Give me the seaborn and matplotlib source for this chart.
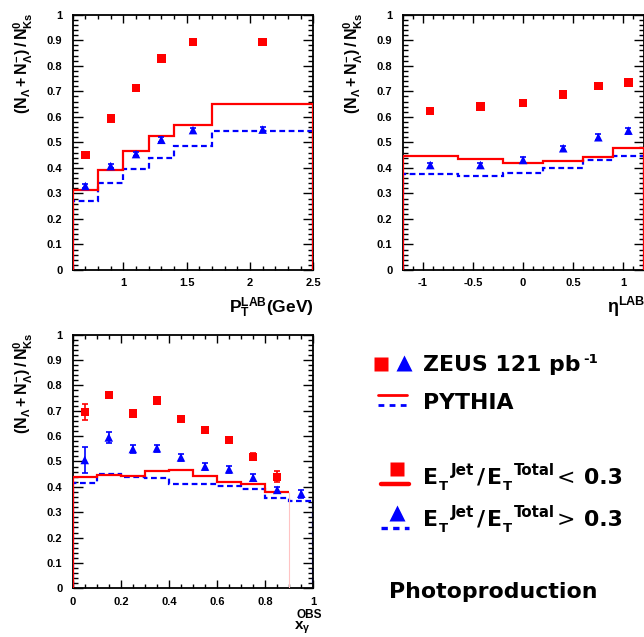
import numpy as np
import pandas as pd
import matplotlib
matplotlib.use("Agg")
import matplotlib.pyplot as plt
import seaborn as sns
from matplotlib.ticker import MultipleLocator, FuncFormatter

sns.set_theme(style="white")
plt.rcParams["font.family"] = ["Liberation Sans", "DejaVu Sans"]
plt.rcParams["font.weight"] = "bold"
plt.rcParams["text.color"] = "black"
plt.rcParams["axes.labelcolor"] = "black"
plt.rcParams["xtick.color"] = "black"
plt.rcParams["ytick.color"] = "black"
plt.rcParams["mathtext.fontset"] = "custom"
plt.rcParams["mathtext.rm"] = "Liberation Sans:bold"
plt.rcParams["mathtext.it"] = "Liberation Sans:bold"
plt.rcParams["mathtext.bf"] = "Liberation Sans:bold"
plt.rcParams["mathtext.sf"] = "Liberation Sans:bold"

# ---------------- data ----------------
# Panel 1: p_T^LAB
pt_x = [0.7, 0.9, 1.1, 1.3, 1.55, 2.1]
pt_low = [0.450, 0.593, 0.714, 0.828, 0.893, 0.893]
pt_low_err = [0.010, 0.010, 0.010, 0.012, 0.012, 0.012]
pt_high = [0.329, 0.407, 0.454, 0.510, 0.548, 0.550]
pt_high_err = [0.008, 0.008, 0.008, 0.010, 0.010, 0.010]
pt_edges = [0.6, 0.8, 1.0, 1.2, 1.4, 1.7, 2.5]
pt_mc_low = [0.312, 0.392, 0.467, 0.524, 0.568, 0.650]
pt_mc_high = [0.270, 0.341, 0.396, 0.439, 0.487, 0.546]
pt_ticks = [1, 1.5, 2, 2.5]

# Panel 2: eta^LAB
eta_x = [-0.925, -0.425, 0.0, 0.4, 0.75, 1.05]
eta_low = [0.624, 0.640, 0.655, 0.687, 0.722, 0.735]
eta_low_err = [0.010, 0.010, 0.010, 0.010, 0.012, 0.012]
eta_high = [0.411, 0.411, 0.431, 0.477, 0.520, 0.546]
eta_high_err = [0.010, 0.010, 0.010, 0.010, 0.012, 0.012]
eta_edges = [-1.2, -0.65, -0.2, 0.2, 0.6, 0.9, 1.2]
eta_mc_low = [0.445, 0.436, 0.420, 0.428, 0.444, 0.478]
eta_mc_high = [0.377, 0.369, 0.381, 0.398, 0.431, 0.448]
eta_ticks = [-1, -0.5, 0, 0.5, 1]

# Panel 3: x_gamma^OBS
xg_x_low = [0.05, 0.15, 0.25, 0.35, 0.45, 0.55, 0.65, 0.75, 0.85]
xg_low = [0.695, 0.762, 0.689, 0.741, 0.668, 0.623, 0.585, 0.519, 0.440]
xg_low_err = [0.030, 0.012, 0.010, 0.012, 0.012, 0.012, 0.012, 0.015, 0.022]
xg_x_high = [0.05, 0.15, 0.25, 0.35, 0.45, 0.55, 0.65, 0.75, 0.85, 0.95]
xg_high = [0.506, 0.595, 0.549, 0.552, 0.516, 0.480, 0.469, 0.436, 0.388, 0.373]
xg_high_err = [0.051, 0.022, 0.015, 0.015, 0.013, 0.013, 0.013, 0.013, 0.013, 0.015]
xg_edges_low = [0.0, 0.1, 0.2, 0.3, 0.4, 0.5, 0.6, 0.7, 0.8, 0.9]
xg_mc_low = [0.438, 0.447, 0.444, 0.462, 0.466, 0.443, 0.419, 0.413, 0.381]
xg_edges_high = [0.0, 0.1, 0.2, 0.3, 0.4, 0.5, 0.6, 0.7, 0.8, 0.9, 1.0]
xg_mc_high = [0.414, 0.452, 0.440, 0.436, 0.410, 0.410, 0.405, 0.392, 0.356, 0.345]
xg_ticks = [0, 0.2, 0.4, 0.6, 0.8, 1.0]

RED = "#ff0000"
BLUE = "#0000ff"
W, H = 644, 637
YLABEL = r"$\mathbf{(N_{\Lambda}+N^{-}_{\Lambda})\,/\,N^{0}_{Ks}}$"

fig = plt.figure(figsize=(W / 100, H / 100), dpi=100)


def px_axes(x0, y0, x1, y1):
    return fig.add_axes([x0 / W, 1 - y1 / H, (x1 - x0) / W, (y1 - y0) / H])


gfmt = FuncFormatter(lambda v, p: "%g" % round(v, 6))


def style_axes(ax, xlim, xticks, xmin):
    ax.set_xlim(*xlim)
    ax.set_ylim(0, 1)
    ax.set_xticks(xticks)
    ax.xaxis.set_minor_locator(MultipleLocator(xmin))
    ax.yaxis.set_major_locator(MultipleLocator(0.1))
    ax.yaxis.set_minor_locator(MultipleLocator(0.02))
    ax.xaxis.set_major_formatter(gfmt)
    ax.yaxis.set_major_formatter(gfmt)
    ax.tick_params(which="both", direction="in", top=True, right=True,
                   bottom=True, left=True, color="black", labelcolor="black",
                   width=1.0)
    ax.tick_params(axis="y", which="major", length=7, pad=7.5, labelsize=8)
    ax.tick_params(axis="y", which="minor", length=3.5)
    ax.tick_params(axis="x", which="major", length=5.5, pad=6, labelsize=8)
    ax.tick_params(axis="x", which="minor", length=3)
    for s in ax.spines.values():
        s.set_color("black")
        s.set_linewidth(1.3)
    ax.set_facecolor("white")
    ax.set_xlabel("")
    ax.set_ylabel(YLABEL, fontsize=11.5, loc="top", color="black")
    ax.yaxis.set_label_coords(-0.155, 1.01)
    ax.grid(False)


def draw_panel(ax, x_lo, y_lo, e_lo, x_hi, y_hi, e_hi,
               edges_lo, mc_lo, edges_hi, mc_hi, faint_end=False):
    ax.stairs(mc_hi, edges_hi, baseline=0, color=BLUE, lw=1.6,
              linestyle=(0, (2.6, 1.6)), zorder=2)
    if faint_end:
        ax.stairs(mc_lo, edges_lo, baseline=None, color=RED, lw=1.6, zorder=3)
        ax.vlines(edges_lo[0], 0, mc_lo[0], color=RED, lw=1.6, zorder=3)
        ax.vlines(edges_lo[-1], 0, mc_lo[-1], color="#ffc4c4", lw=0.8, zorder=3)
    else:
        ax.stairs(mc_lo, edges_lo, baseline=0, color=RED, lw=1.6, zorder=3)
    ax.errorbar(x_lo, y_lo, yerr=e_lo, fmt="none", ecolor=RED, elinewidth=1.2,
                capsize=2, capthick=1.2, zorder=4)
    ax.errorbar(x_hi, y_hi, yerr=e_hi, fmt="none", ecolor=BLUE, elinewidth=1.2,
                capsize=2, capthick=1.2, zorder=4)
    d_lo = pd.DataFrame({"x": x_lo, "y": y_lo})
    d_hi = pd.DataFrame({"x": x_hi, "y": y_hi})
    sns.scatterplot(data=d_lo, x="x", y="y", marker="s", color=RED, s=36,
                    edgecolor="none", ax=ax, zorder=5)
    sns.scatterplot(data=d_hi, x="x", y="y", marker="^", color=BLUE, s=38,
                    edgecolor="none", ax=ax, zorder=5)


# Top-left
ax1 = px_axes(72.7, 14.7, 313.3, 270)
draw_panel(ax1, pt_x, pt_low, pt_low_err, pt_x, pt_high, pt_high_err,
           pt_edges, pt_mc_low, pt_edges, pt_mc_high)
style_axes(ax1, (0.6, 2.5), pt_ticks, 0.1)

# Top-right
ax2 = px_axes(402.7, 14.7, 643.5, 270)
draw_panel(ax2, eta_x, eta_low, eta_low_err, eta_x, eta_high, eta_high_err,
           eta_edges, eta_mc_low, eta_edges, eta_mc_high)
style_axes(ax2, (-1.2, 1.2), eta_ticks, 0.1)

# Bottom-left
ax3 = px_axes(72.7, 334.7, 313.3, 588.3)
draw_panel(ax3, xg_x_low, xg_low, xg_low_err, xg_x_high, xg_high, xg_high_err,
           xg_edges_low, xg_mc_low, xg_edges_high, xg_mc_high, faint_end=True)
style_axes(ax3, (0.0, 1.0), xg_ticks, 0.05)

# ---------------- overlay (axis titles + legend) in pixel coordinates -------
lg = fig.add_axes([0, 0, 1, 1], facecolor="none")
lg.set_xlim(0, W)
lg.set_ylim(H, 0)
lg.axis("off")

# axis titles
lg.text(313.3, 313, r"$\mathbf{P_{T}^{LAB}}$(GeV)", ha="right", va="baseline",
        fontsize=12.5, fontweight="bold", color="black")
lg.text(607, 313, r"$\mathbf{\eta^{LAB}}$", ha="left", va="baseline",
        fontsize=13, fontweight="bold", color="black")
lg.text(297, 618, "OBS", ha="left", va="baseline", fontsize=8.5,
        fontweight="bold", color="black")
lg.text(294, 630, r"$\mathbf{x_{\gamma}}$", ha="left", va="baseline",
        fontsize=11, fontweight="bold", color="black")

# legend glyphs
lg.plot([380.7], [364], marker="s", color=RED, markersize=10.5, mec="none")
lg.plot([404.5], [363], marker="^", color=BLUE, markersize=11.5, mec="none")
lg.plot([378, 406.7], [395, 395], color=RED, lw=2.0)
lg.plot([378, 406.7], [405.3, 405.3], color=BLUE, lw=2.0, linestyle=(0, (2.1, 1.9)))
lg.plot([397], [468.5], marker="s", color=RED, markersize=10, mec="none")
lg.plot([381.5, 409.3], [483.5, 483.5], color=RED, lw=3.2)
lg.plot([397], [513], marker="^", color=BLUE, markersize=11, mec="none")
lg.plot([381.5, 409.3], [528.3, 528.3], color=BLUE, lw=2.4,
        linestyle=(0, (1.9, 1.6)))

LF = ["DejaVu Sans"]
FS = 15.8


def put(x, y, s, size, weight="bold", family=LF):
    lg.text(x, y, s, ha="left", va="baseline", fontsize=size,
            fontweight=weight, family=family, color="black")


put(423, 371, "ZEUS 121 pb", FS)
put(583, 363, "-1", 9.5)
put(423, 409, "PYTHIA", FS)

for base, sym in [(483.5, "<"), (525.5, ">")]:
    put(423, base, "E", FS)
    put(439, base + 6.8, "T", 9.5)
    put(451, base - 8.5, "Jet", 11)
    put(477, base, "/", FS)
    put(487, base, "E", FS)
    put(503, base + 6.8, "T", 9.5)
    put(514, base - 8.5, "Total", 10.8)
    put(557, base, sym, FS, weight="normal")
    put(584, base, "0.3", FS)

lg.text(493, 598, "Photoproduction", ha="center", va="baseline", fontsize=FS,
        fontweight="bold", family=LF, color="black")

fig.savefig("out.png", dpi=100, facecolor="white")
